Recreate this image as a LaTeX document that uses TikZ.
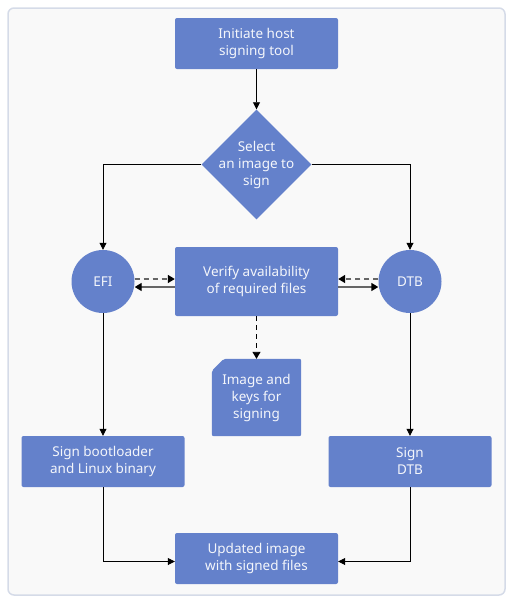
\documentclass[tikz,border=0pt]{standalone}
\usepackage{fontspec}
\setmainfont{Noto Sans}
\usetikzlibrary{arrows.meta,shapes.geometric,backgrounds,calc}
\definecolor{boxfill}{HTML}{6481CB}
\definecolor{boxtext}{HTML}{F4F6FB}
\definecolor{frameline}{HTML}{D5DBE8}
\definecolor{framefill}{HTML}{F9F9F9}
\definecolor{grayline}{HTML}{666666}
\tikzset{
  every node/.style={font=\fontsize{13.5}{17}\selectfont, text=boxtext, align=center, inner sep=0pt},
  procbox/.style={rectangle, fill=boxfill, rounded corners=2pt, minimum width=163pt, minimum height=51pt},
  decision/.style={diamond, fill=boxfill, minimum width=110pt, minimum height=110pt, aspect=1},
  circ/.style={circle, fill=boxfill, minimum size=63pt},
  docshape/.style={rectangle, minimum width=89pt, minimum height=77pt},
  conn/.style={draw=black, line width=0.8pt, -{Triangle[length=7pt,width=7pt]}},
  sideconn/.style={draw=grayline, line width=1.4pt, -{Triangle[length=7pt,width=8pt,fill=black,color=black]}},
  sidedash/.style={sideconn, dash pattern=on 5pt off 4pt},
  downdash/.style={draw=black, line width=0.9pt, dash pattern=on 5pt off 4pt, -{Triangle[length=7pt,width=8pt]}},
}
\begin{document}
\begin{tikzpicture}[x=1pt,y=-1pt]
\useasboundingbox (0,0) rectangle (512,603);
\node[procbox] (init) at (256.5,43.5) {Initiate host\\signing tool};
\node[decision] (sel) at (256.5,164.5) {};
\node (sellabel) at (sel.center) {Select\\an image to\\sign};
\node[circ] (efi) at (103,281.5) {EFI};
\node[circ] (dtb) at (410,281.5) {DTB};
\node[procbox, minimum height=69pt] (ver) at (256.5,281.5) {Verify availability\\of required files};
\node[docshape] (doc) at (256.5,397.5) {Image and\\keys for\\signing};
\node[procbox] (s1) at (103,461.5) {Sign bootloader\\and Linux binary};
\node[procbox] (s2) at (410,461.5) {Sign\\DTB};
\node[procbox] (upd) at (256.5,558.5) {Updated image\\with signed files};
\begin{scope}[on background layer]
  \draw[frameline, fill=framefill, line width=1.5pt, rounded corners=6pt] (8,8) rectangle (505,595);
  \fill[boxfill, rounded corners=2pt] ([yshift=-12pt]doc.north west) -- ([xshift=12pt]doc.north west) -- (doc.north east) -- (doc.south east) -- (doc.south west) -- cycle;
\end{scope}
\draw[conn] (init) -- (sel);
\draw[conn] (sel.west) -| (efi.north);
\draw[conn] (sel.east) -| (dtb.north);
\draw[sidedash] ([yshift=2.5pt]efi.east) -- ([yshift=2.5pt]efi.east -| ver.west);
\draw[sideconn] ([yshift=-5.5pt]ver.west) -- ([yshift=-5.5pt]ver.west -| efi.east);
\draw[sidedash] ([yshift=2.5pt]dtb.west) -- ([yshift=2.5pt]dtb.west -| ver.east);
\draw[sideconn] ([yshift=-5.5pt]ver.east) -- ([yshift=-5.5pt]ver.east -| dtb.west);
\draw[downdash] (ver.south) -- (doc.north);
\draw[conn] (efi.south) -- (s1.north);
\draw[conn] (dtb.south) -- (s2.north);
\draw[conn] (s1.south) |- ([yshift=-3pt]upd.west);
\draw[conn] (s2.south) |- ([yshift=-3pt]upd.east);
\end{tikzpicture}
\end{document}
